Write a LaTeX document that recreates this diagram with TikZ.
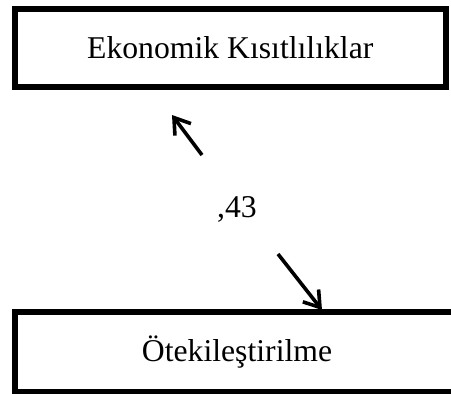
\documentclass[tikz,border=0pt]{standalone}
\usepackage{fontspec}
\setmainfont{Liberation Serif}
\usepackage{tikz}
\usetikzlibrary{arrows.meta}

\begin{document}
\begin{tikzpicture}[
        x=1pt, y=-1pt,
        kutu/.style={draw, line width=6pt, minimum width=#1, minimum height=78pt,
                     inner sep=0pt, font=\fontsize{31.7}{38}\selectfont},
        ok/.style={-{Straight Barb[length=15pt, width=20pt]}, line width=3.6pt},
    ]
        \useasboundingbox (0,0) rectangle (451,394);
        \clip (0,0) rectangle (451,394);

        %--- kutular ---
        \node[kutu=430.5pt] (eko) at (230.25,47.75) {Ekonomik Kısıtlılıklar};
        \node[kutu=444pt, minimum height=79.5pt] (otek) at (237,352) {Ötekileştirilme};

        %--- katsayi ---
        \node[font=\fontsize{31.7}{38}\selectfont] (kats) at (237,209) {,43};

        %--- oklar ---
        \coordinate (ustbas) at (202,155);
        \coordinate (ustuc)  at (172,115);
        \coordinate (altbas) at (278,254);
        \coordinate (altuc)  at (322,310);
        \draw[ok] (ustbas) -- (ustuc);
        \draw[ok] (altbas) -- (altuc);
    \end{tikzpicture}
\end{document}
